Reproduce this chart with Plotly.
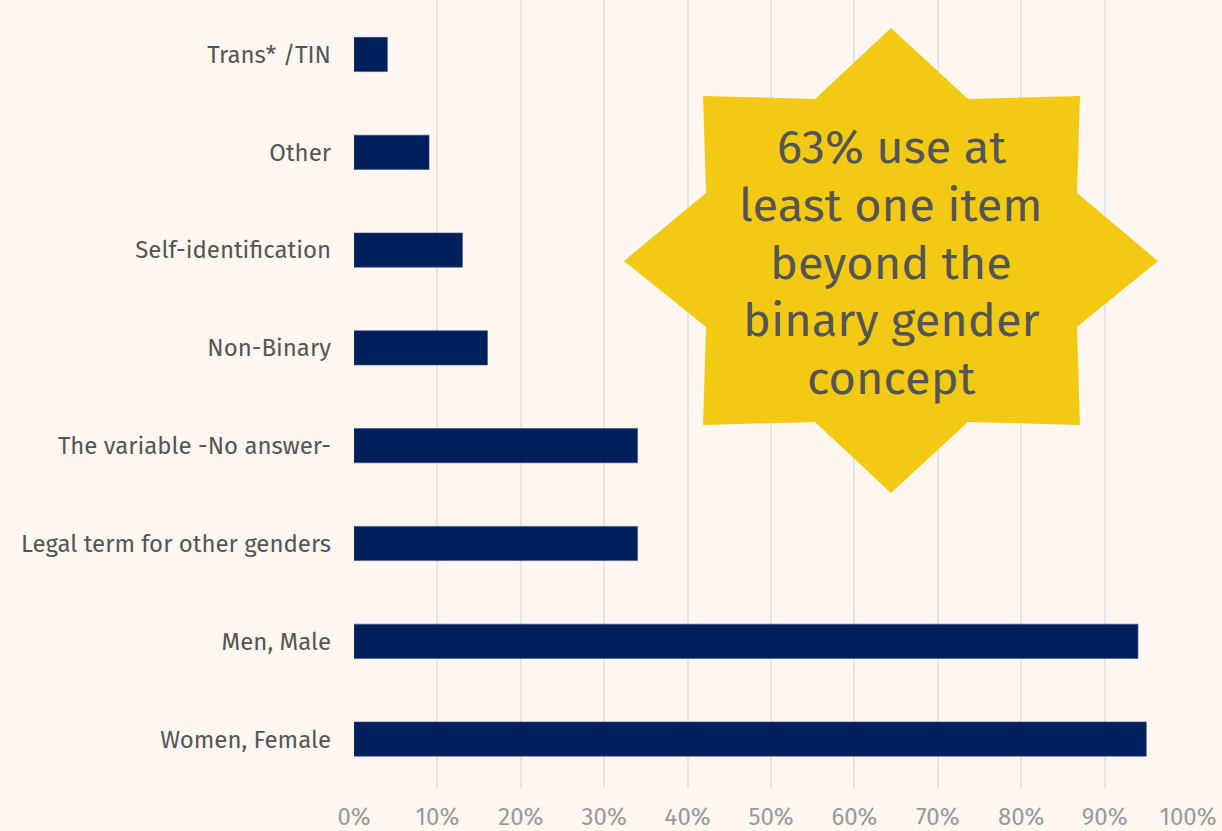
"""Gender items used in surveys: horizontal bar chart with a star callout."""

import plotly.graph_objects as go

# ---------------------------------------------------------------------------
# Data (top to bottom as shown)
# ---------------------------------------------------------------------------

categories = [
    "Trans* /TIN",
    "Other",
    "Self-identification",
    "Non-Binary",
    "The variable -No answer-",
    "Legal term for other genders",
    "Men, Male",
    "Women, Female",
]
shares = [4, 9, 13, 16, 34, 34, 94, 95]
tick_values = [0, 10, 20, 30, 40, 50, 60, 70, 80, 90, 100]
tick_labels = [f"{v}%" for v in tick_values]
callout_lines = ["63% use at", "least one item", "beyond the", "binary gender", "concept"]

# ---------------------------------------------------------------------------
# Style
# ---------------------------------------------------------------------------

_BG = "#FEF7F1"
_BAR = "#00205C"
_GRID = "#E6E4E2"
_STAR = "#F2CA14"
_FONT = "Fira Sans, Lato, sans-serif"

W, H = 1222, 831
MARGIN = dict(l=354, r=34, t=0, b=43)

# star outline in window pixels (8-point badge)
_STAR_PX = [
    (891, 28), (968, 99), (1080, 96), (1077, 193),
    (1158, 261), (1077, 327), (1080, 425), (968, 422),
    (891, 493), (815, 422), (703, 425), (706, 327),
    (624, 261), (706, 193), (703, 96), (815, 99),
]
_TEXT_CENTER_X = 891
_TEXT_FIRST_Y = 147
_TEXT_STEP = 57.8


def _to_paper(px: float, py: float) -> tuple[float, float]:
    pw = W - MARGIN["l"] - MARGIN["r"]
    ph = H - MARGIN["t"] - MARGIN["b"]
    return (px - MARGIN["l"]) / pw, 1 - (py - MARGIN["t"]) / ph


def star_path() -> str:
    pts = [_to_paper(x, y) for x, y in _STAR_PX]
    return "M " + " L ".join(f"{x:.4f},{y:.4f}" for x, y in pts) + " Z"


fig = go.Figure(
    go.Bar(
        x=shares,
        y=categories,
        orientation="h",
        width=0.35,
        marker=dict(color=_BAR, line=dict(color="#3A4E80", width=0.6)),
        hovertemplate="%{y}: %{x}%<extra></extra>",
    )
)

fig.add_shape(
    type="path",
    path=star_path(),
    xref="paper",
    yref="paper",
    fillcolor=_STAR,
    line=dict(width=0),
    layer="above",
)
for i, line in enumerate(callout_lines):
    ax, ay = _to_paper(_TEXT_CENTER_X, _TEXT_FIRST_Y + i * _TEXT_STEP)
    fig.add_annotation(
        x=ax,
        y=ay,
        xref="paper",
        yref="paper",
        xanchor="center",
        yanchor="middle",
        text=line,
        showarrow=False,
        font=dict(family=_FONT, size=47, color="#555555"),
    )

fig.update_layout(
    width=W,
    height=H,
    margin=MARGIN,
    paper_bgcolor=_BG,
    plot_bgcolor=_BG,
    showlegend=False,
    font=dict(family=_FONT),
    xaxis=dict(
        range=[0, 100],
        tickmode="array",
        tickvals=tick_values,
        ticktext=tick_labels,
        showgrid=True,
        gridcolor=_GRID,
        gridwidth=2,
        zeroline=False,
        showline=False,
        tickfont=dict(size=24, color="#9A9A9A"),
        ticklabelstandoff=12,
        automargin=False,
        fixedrange=True,
    ),
    yaxis=dict(
        categoryorder="array",
        categoryarray=categories,
        range=[7.5, -0.557],
        showgrid=False,
        zeroline=False,
        showline=False,
        tickfont=dict(size=24, color="#555555"),
        ticklabelstandoff=22,
        automargin=False,
        fixedrange=True,
    ),
)

fig.write_html(
    "out.html",
    config={"displayModeBar": False},
    post_script="document.body.style.margin='0';",
)
